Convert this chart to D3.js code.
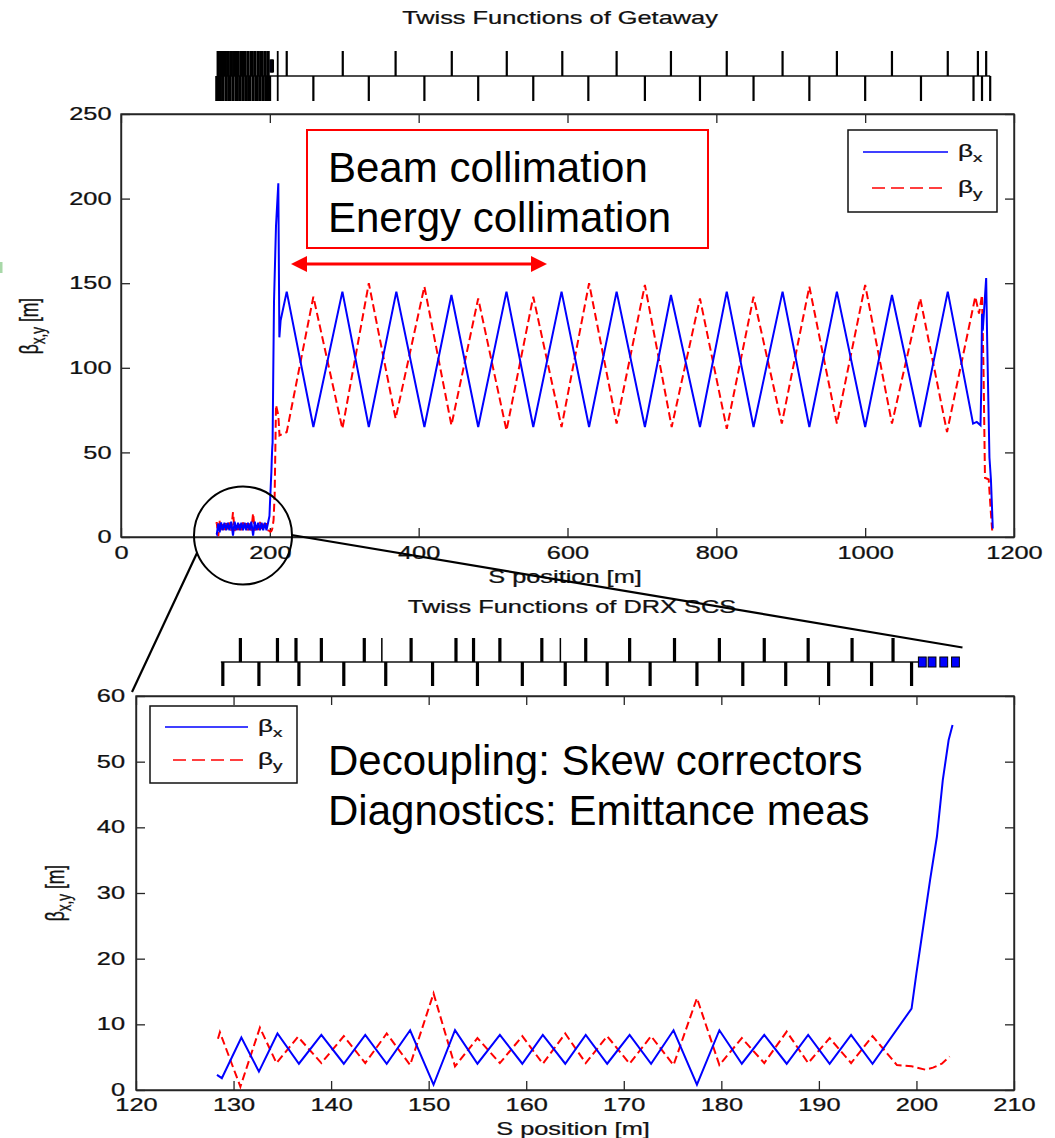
<!DOCTYPE html>
<html><head><meta charset="utf-8">
<script src="https://cdn.jsdelivr.net/npm/d3@7"></script>
<style>body{margin:0;background:#fff} svg{display:block}</style>
</head><body>
<svg id="c" width="1055" height="1138"></svg>
<script>
// ---------------- DATA ----------------
const topTicksX = [0, 200, 400, 600, 800, 1000, 1200];
const topTicksY = [0, 50, 100, 150, 200, 250];
const botTicksX = [120, 130, 140, 150, 160, 170, 180, 190, 200, 210];
const botTicksY = [0, 10, 20, 30, 40, 50, 60];

const titleTop = "Twiss Functions of Getaway";
const titleBot = "Twiss Functions of DRX SCS";
const xLabel = "S position [m]";
const topNotes = ["Beam collimation", "Energy collimation"];
const botNotes = ["Decoupling: Skew correctors", "Diagnostics: Emittance meas"];
const seriesNames = ["x", "y"];

// DRX SCS section (zoomed plot) : beta_x
const scsSx = [128.3,128.8,130.8,132.6,134.5,136.7,139.0,141.3,143.5,145.7,148.1,150.5,152.7,155.0,157.3,159.6,161.7,164.0,166.1,168.3,170.6,172.8,175.1,177.5,179.8,182.1,184.4,186.7,188.9,191.1,193.3,195.5,199.5,200.0,200.7,201.4,202.1,202.7,203.3,203.7];
const scsBx = [2.3,1.8,8.0,2.8,8.6,4.0,8.4,4.0,8.4,4.0,9.1,0.8,9.1,4.0,8.4,4.0,8.4,4.0,8.4,4.0,8.4,4.0,9.1,0.8,9.1,4.0,8.4,4.0,8.4,4.0,8.4,4.0,12.4,17.8,24.9,32.0,38.6,47.2,53.3,55.6];
// DRX SCS section : beta_y
const scsSy = [128.4,128.6,130.7,132.7,134.4,136.6,139.0,141.3,143.5,145.7,148.1,150.5,152.7,155.0,157.3,159.6,161.7,164.0,166.1,168.3,170.6,172.8,175.1,177.5,179.8,182.1,184.4,186.7,188.9,191.1,193.3,195.5,198.0,199.5,200.9,201.7,202.6,203.4];
const scsBy = [7.8,8.8,0.5,9.5,4.1,8.1,4.1,8.2,4.1,8.6,3.8,14.7,3.6,7.9,4.1,8.2,4.0,8.6,4.1,8.2,4.0,8.2,3.8,14.0,3.8,7.9,4.1,8.9,4.1,7.9,4.1,8.2,3.8,3.6,3.1,3.4,4.0,5.1];

// Getaway (after the SCS section) : beta_x
const getSx = [204.5,205.6,208.3,211.4,212.8,214.5,222.7,258.5,297.5,333,370,407.7,444,480,518,554,592,629,666,704,739,778,814,850,889,925,962,1000,1036,1074,1111,1145,1150,1155,1156,1157,1158,1162.6,1164,1167,1169,1171.5];
const getBx = [92,139,184,209,118,128,145,65,145,65,145,65,143,65,145,65,145,65,145,65,143,65,145,65,145,65,145,65,143,65,145,67,68,66,88,132,122,153,115,47,34,5];
// Getaway : beta_y
const getSy = [205,206.5,208.3,211.4,213,222.7,258.5,297.5,333,369,407.7,444,480,518,554,592,629,666,704,740,778,814,850,888,925,962,1000,1036,1074,1110,1148,1153,1157,1159,1161,1166,1169,1171];
const getBy = [10,25,78,72,60,62,142,64,150,70,148,66,141,63,142,65,150,67,149,65,141,64,142,67,148,67,149,67,141,62,142,132,143,100,35,34,14,2];

// Lattice elements (S positions, m)
const scsQuadUp = [130.7,134.5,136.4,139.0,143.4,148.2,152.8,154.6,157.3,161.6,166.1,170.6,175.2,179.8,184.4,188.9,193.4,197.6];
const scsThinUp = [145.2,163.5];
const scsQuadDown = [128.9,132.6,136.7,141.3,145.6,150.4,155.0,159.6,164.0,168.3,172.7,177.5,182.2,186.6,191.0,195.4,199.5];
const scsKickStart = [200.2,201.2,202.4,203.6];
const scsKickEnd   = [201.0,202.0,203.2,204.4];
const scsLineRange = [128.7, 200.2];
const getQuadUp = [222.7,298,369,444.5,518.4,593,666,739,814,889,962,1036,1111,1151.5,1162.6];
const getQuadDown = [258.5,333,407.7,480,554,628,704,778,850,925,1000,1075,1145.6,1157,1168];
const getBendBoth = [210.6];
const getLineRange = [129, 1168];

// ---------------- DRAW ----------------
const svg = d3.select("#c");
const SX = 1.45;               // horizontal stretch of the original figure text
const FONT = "'Liberation Sans', Arial, sans-serif";
const AX = "#262626";
const BLUE = "#0000ff", RED = "#ff0000";

const xT = d3.scaleLinear().domain([0, 1200]).range([121, 1014]);
const yT = d3.scaleLinear().domain([0, 250]).range([537, 114]);
const xB = d3.scaleLinear().domain([120, 210]).range([136, 1014]);
const yB = d3.scaleLinear().domain([0, 60]).range([1090, 696]);

function stext(parent, x, y, str, anchor, size) {
  const g = parent.append("g").attr("transform", `translate(${x},${y}) scale(${SX},1)`);
  return g.append("text").attr("text-anchor", anchor || "middle")
    .attr("font-family", FONT).attr("font-size", size || 17.5).attr("fill", "#111")
    .attr("stroke", "#111").attr("stroke-width", 0.25).text(str);
}

function drawAxes(x, y, xticks, yticks, padX, padY) {
  const [x0, x1] = x.range(), [y0, y1] = y.range();
  const g = svg.append("g");
  const fmt = d3.format("d");
  const style = sel => {
    sel.attr("color", AX).attr("font-family", FONT).attr("font-size", 17.5);
    sel.selectAll("path.domain").attr("stroke-width", 1.4);
    sel.selectAll(".tick line").attr("stroke-width", 1.3);
    sel.selectAll("text").attr("fill", "#111").attr("stroke", "#111").attr("stroke-width", 0.25)
      .attr("transform", `scale(${SX},1)`);
  };
  g.append("g").attr("transform", `translate(0,${y0})`)
    .call(d3.axisBottom(x).tickValues(xticks).tickSize(-9).tickSizeOuter(0).tickPadding(padX).tickFormat(fmt)).call(style);
  g.append("g").attr("transform", `translate(0,${y1})`)
    .call(d3.axisTop(x).tickValues(xticks).tickSize(-9).tickSizeOuter(0).tickFormat("")).call(style);
  g.append("g").attr("transform", `translate(${x0},0)`)
    .call(d3.axisLeft(y).tickValues(yticks).tickSize(-9).tickSizeOuter(0).tickPadding(padY).tickFormat(fmt)).call(style);
  g.append("g").attr("transform", `translate(${x1},0)`)
    .call(d3.axisRight(y).tickValues(yticks).tickSize(-9).tickSizeOuter(0).tickFormat("")).call(style);
  g.append("rect").attr("x", x0).attr("y", y1).attr("width", x1 - x0).attr("height", y0 - y1)
    .attr("fill", "none").attr("stroke", AX).attr("stroke-width", 1.4);
}

function drawSeries(x, y, sArr, bArr, color, dashed) {
  const data = sArr.map((s, i) => [s, bArr[i]]);
  svg.append("path").datum(data)
    .attr("d", d3.line().x(d => x(d[0])).y(d => y(d[1])))
    .attr("fill", "none").attr("stroke", color).attr("stroke-width", 2)
    .attr("stroke-dasharray", dashed ? "8,4" : null)
    .attr("stroke-linejoin", "miter");
}

function yLabel(cx, cy) {
  const g = svg.append("g").attr("transform", `translate(${cx},${cy}) rotate(-90) scale(1,${SX})`);
  const t = g.append("text").attr("text-anchor", "middle").attr("font-family", FONT)
    .attr("font-size", 17.5).attr("fill", "#111").attr("stroke", "#111").attr("stroke-width", 0.25);
  t.append("tspan").text("β");
  t.append("tspan").attr("dy", 5).attr("font-size", 13.5).text("x,y");
  t.append("tspan").attr("dy", -5).text(" [m]");
}

function legend(bx, by, bw, bh, lx0, lx1, rx0, ly1, ly2) {
  const g = svg.append("g");
  g.append("rect").attr("x", bx).attr("y", by).attr("width", bw).attr("height", bh)
    .attr("fill", "#fff").attr("stroke", "#111").attr("stroke-width", 1.5);
  g.append("line").attr("x1", lx0).attr("x2", lx1).attr("y1", ly1).attr("y2", ly1)
    .attr("stroke", BLUE).attr("stroke-width", 1.5);
  g.append("line").attr("x1", rx0).attr("x2", lx1).attr("y1", ly2).attr("y2", ly2)
    .attr("stroke", RED).attr("stroke-width", 1.5).attr("stroke-dasharray", "13,6");
  [ly1, ly2].forEach((ly, i) => {
    const t = stext(g, lx1 + 10, ly + 5, "", "start", 18);
    t.append("tspan").text("β");
    t.append("tspan").attr("dy", 5).attr("font-size", 13).text(seriesNames[i]);
  });
}

function lattice(x, lineY, h, up, thinUp, down, both, lineRange, wide) {
  const g = svg.append("g");
  if (lineRange) g.append("line").attr("x1", x(lineRange[0])).attr("x2", x(lineRange[1]))
    .attr("y1", lineY).attr("y2", lineY).attr("stroke", "#111").attr("stroke-width", 1.5);
  g.selectAll(".qu").data(up).join("rect")
    .attr("x", d => x(d) - wide / 2).attr("y", lineY - h).attr("width", wide).attr("height", h).attr("fill", "#000");
  g.selectAll(".qt").data(thinUp).join("rect")
    .attr("x", d => x(d) - 0.75).attr("y", lineY - h).attr("width", 1.5).attr("height", h).attr("fill", "#000");
  g.selectAll(".qd").data(down).join("rect")
    .attr("x", d => x(d) - wide / 2).attr("y", lineY).attr("width", wide).attr("height", h).attr("fill", "#000");
  g.selectAll(".qb").data(both).join("rect")
    .attr("x", d => x(d) - 0.9).attr("y", lineY - h).attr("width", 1.8).attr("height", 2 * h).attr("fill", "#000");
  return g;
}

function kickers(g, x, lineY, hh) {
  g.selectAll(".kk").data(scsKickStart).join("rect")
    .attr("x", (d) => x(d)).attr("y", lineY - hh)
    .attr("width", (d, i) => Math.max(1, x(scsKickEnd[i]) - x(d))).attr("height", 2 * hh)
    .attr("fill", BLUE).attr("stroke", "#000").attr("stroke-width", 1);
}

// --- top plot ---
stext(svg, 560, 24, titleTop);
lattice(xT, 76, 25, getQuadUp, [], getQuadDown, getBendBoth, getLineRange, 2.2);
const lt = lattice(xT, 76, 25, scsQuadUp, scsThinUp, scsQuadDown, [], null, 3.4);
kickers(lt, xT, 66, 6);
drawAxes(xT, yT, topTicksX, topTicksY, 9.5, 6.5);
drawSeries(xT, yT, scsSy.concat(getSy), scsBy.concat(getBy), RED, true);
drawSeries(xT, yT, scsSx.concat(getSx), scsBx.concat(getBx), BLUE, false);
stext(svg, 565, 583, xLabel);
yLabel(38, 326);
legend(848, 130, 149, 82, 863, 948, 872, 152, 188);

// annotation box + arrow (top)
svg.append("rect").attr("x", 307).attr("y", 130).attr("width", 401).attr("height", 118)
  .attr("fill", "#fff").attr("stroke", RED).attr("stroke-width", 2);
topNotes.forEach((s, i) => svg.append("text").attr("x", 328).attr("y", 182 + 50 * i)
  .attr("font-family", FONT).attr("font-size", 42).attr("fill", "#000").text(s));
svg.append("line").attr("x1", 300).attr("x2", 538).attr("y1", 264).attr("y2", 264)
  .attr("stroke", RED).attr("stroke-width", 3);
svg.append("path").attr("d", "M291,264 L307,256 L307,272 Z").attr("fill", RED);
svg.append("path").attr("d", "M547,264 L531,256 L531,272 Z").attr("fill", RED);

// --- bottom plot ---
stext(svg, 572, 613, titleBot);
const lb = lattice(xB, 662, 24, scsQuadUp, scsThinUp, scsQuadDown, [], scsLineRange, 3.2);
kickers(lb, xB, 662, 5);
drawAxes(xB, yB, botTicksX, botTicksY, 9, 7.6);
drawSeries(xB, yB, scsSy, scsBy, RED, true);
drawSeries(xB, yB, scsSx, scsBx, BLUE, false);
stext(svg, 573, 1135, xLabel);
yLabel(64, 893);
legend(150, 706, 147, 77, 165, 248, 173, 727, 760);
botNotes.forEach((s, i) => svg.append("text").attr("x", 328).attr("y", 775 + 50 * i)
  .attr("font-family", FONT).attr("font-size", 42).attr("fill", "#000").text(s));

// zoom marker circle and connecting lines
svg.append("circle").attr("cx", 243).attr("cy", 535.5).attr("r", 49)
  .attr("fill", "none").attr("stroke", "#000").attr("stroke-width", 2);
svg.append("line").attr("x1", 197).attr("y1", 553).attr("x2", 132).attr("y2", 692)
  .attr("stroke", "#000").attr("stroke-width", 2.2);
svg.append("line").attr("x1", 291.5).attr("y1", 535).attr("x2", 962.5).attr("y2", 647.5)
  .attr("stroke", "#000").attr("stroke-width", 2.2);
// small green mark at the left edge
svg.append("rect").attr("x", 0).attr("y", 262).attr("width", 2.5).attr("height", 11).attr("fill", "#a8d8a8");
</script>
</body></html>
